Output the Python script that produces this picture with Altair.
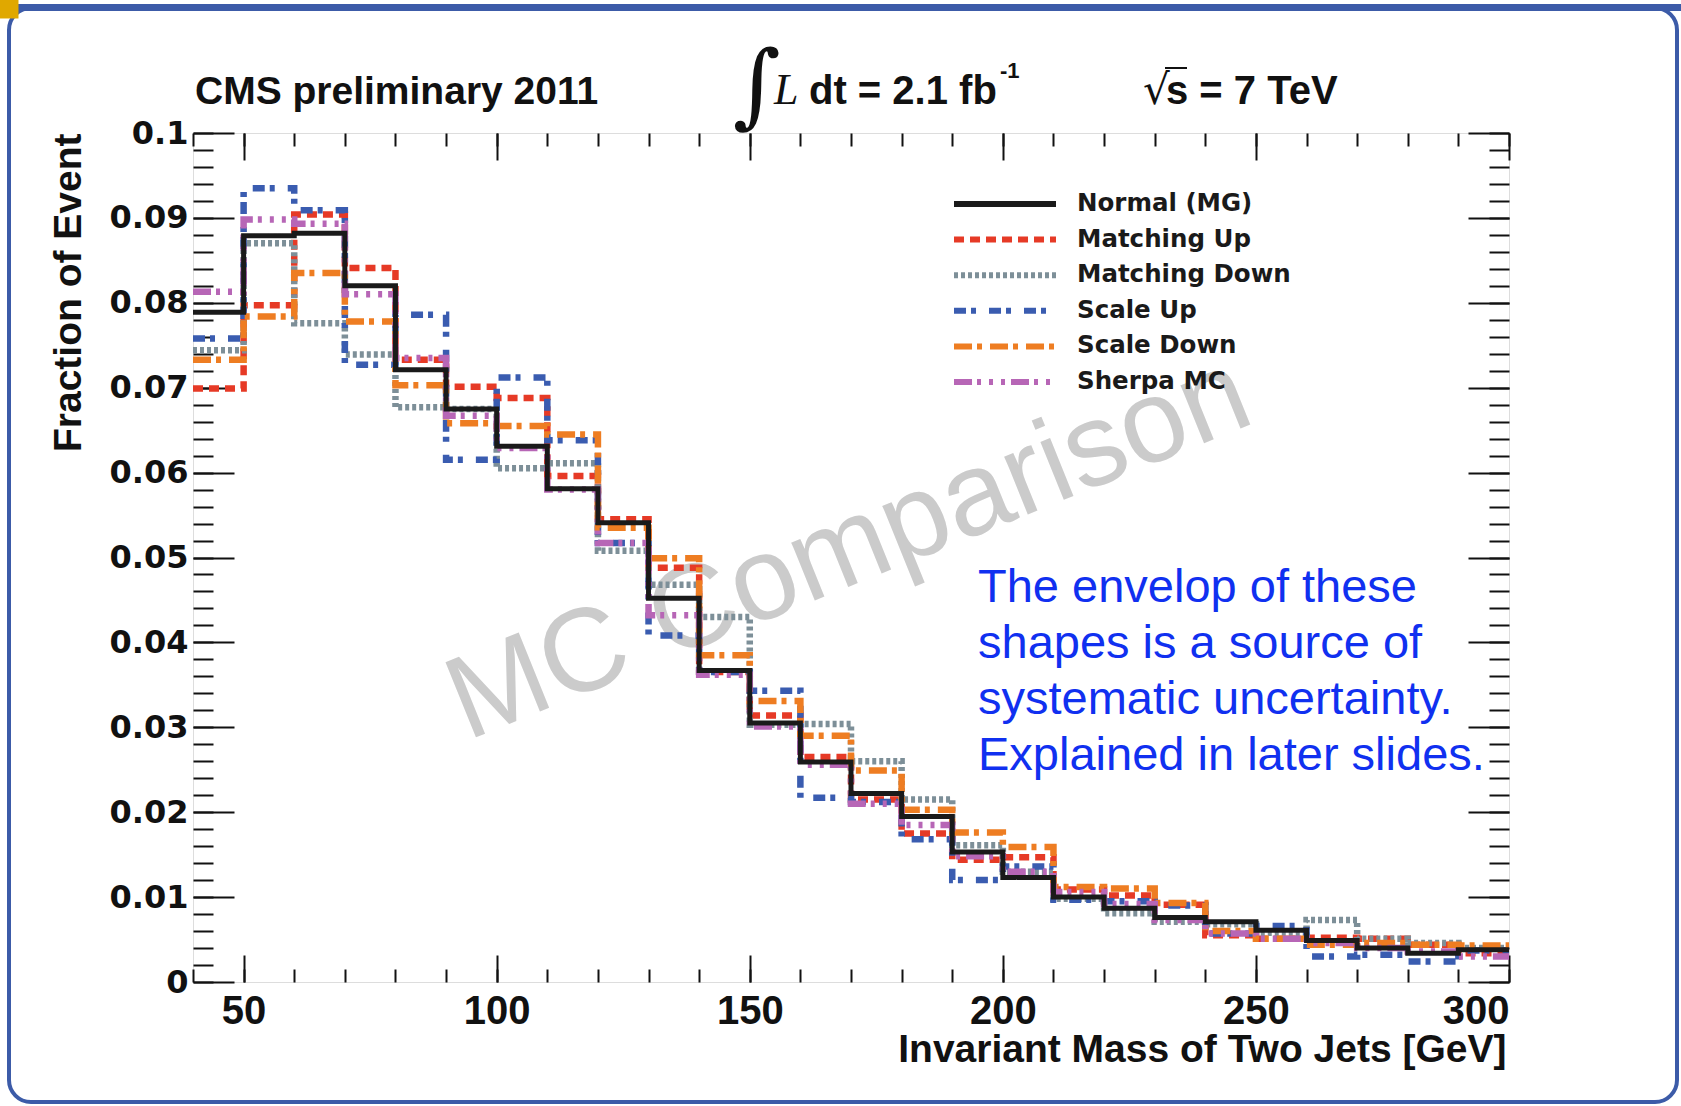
import altair as alt
import pandas as pd

# Histogram bin edges (GeV): 26 bins of 10 GeV from 40 to 300
mass_edges = list(range(40, 301, 10))

samples = ["Normal (MG)", "Matching Up", "Matching Down", "Scale Up", "Scale Down", "Sherpa MC"]

normal_mg = [0.0789, 0.0879, 0.0882, 0.0820, 0.0721, 0.0675, 0.0631, 0.0581, 0.0541, 0.0452,
             0.0367, 0.0305, 0.0259, 0.0222, 0.0195, 0.0153, 0.0123, 0.0100, 0.0087, 0.0076,
             0.0071, 0.0061, 0.0049, 0.0040, 0.0034, 0.0038]
matching_up = [0.0699, 0.0797, 0.0904, 0.0841, 0.0733, 0.0701, 0.0688, 0.0596, 0.0545, 0.0488,
               0.0365, 0.0314, 0.0265, 0.0215, 0.0175, 0.0144, 0.0147, 0.0109, 0.0102, 0.0091,
               0.0055, 0.0051, 0.0052, 0.0051, 0.0044, 0.0034]
matching_down = [0.0744, 0.0870, 0.0776, 0.0739, 0.0677, 0.0675, 0.0605, 0.0611, 0.0508, 0.0468,
                 0.0430, 0.0303, 0.0304, 0.0260, 0.0215, 0.0161, 0.0130, 0.0098, 0.0081, 0.0071,
                 0.0068, 0.0058, 0.0073, 0.0051, 0.0046, 0.0040]
scale_up = [0.0758, 0.0935, 0.0909, 0.0727, 0.0786, 0.0615, 0.0712, 0.0638, 0.0517, 0.0408,
            0.0365, 0.0343, 0.0217, 0.0212, 0.0168, 0.0120, 0.0136, 0.0097, 0.0095, 0.0090,
            0.0057, 0.0066, 0.0030, 0.0032, 0.0024, 0.0037]
scale_down = [0.0733, 0.0784, 0.0835, 0.0778, 0.0703, 0.0658, 0.0655, 0.0645, 0.0535, 0.0499,
              0.0385, 0.0331, 0.0290, 0.0249, 0.0203, 0.0176, 0.0159, 0.0112, 0.0110, 0.0093,
              0.0060, 0.0051, 0.0044, 0.0046, 0.0044, 0.0043]
sherpa_mc = [0.0813, 0.0898, 0.0893, 0.0810, 0.0735, 0.0667, 0.0629, 0.0580, 0.0517, 0.0432,
             0.0362, 0.0301, 0.0256, 0.0210, 0.0185, 0.0148, 0.0130, 0.0106, 0.0092, 0.0073,
             0.0057, 0.0051, 0.0046, 0.0040, 0.0036, 0.0030]

series_values = [normal_mg, matching_up, matching_down, scale_up, scale_down, sherpa_mc]

line_colors = ["#1a1a1a", "#e63a26", "#7d8f98", "#3a5cb0", "#ee7d22", "#b766b6"]
line_dashes = [[1, 0], [10, 6], [4, 3], [12, 5, 5, 13], [18, 5, 5, 8], [18, 5, 4, 8, 4, 8, 4, 6]]

x_major_ticks = [50, 100, 150, 200, 250, 300]
x_minor_ticks = list(range(40, 301, 10))
y_major_ticks = [0, 0.01, 0.02, 0.03, 0.04, 0.05, 0.06, 0.07, 0.08, 0.09, 0.1]
y_minor_ticks = [i / 500 for i in range(0, 51)]

note_lines = ["The envelop of these", "shapes is a source of",
              "systematic uncertainty.", "Explained in later slides."]

# Step-histogram table: each bin's left edge plus a closing point at 300 GeV
rows = []
for name, vals in zip(samples, series_values):
    for i, edge in enumerate(mass_edges):
        rows.append({"mass": edge, "frac": vals[min(i, len(vals) - 1)], "sample": name})
hist = pd.DataFrame(rows)

W, H = 1316, 849
SANS = "Liberation Sans, Arial, Helvetica"
INK = "#111111"

x_scale = alt.Scale(domain=[40, 300], nice=False, zero=False)
y_scale = alt.Scale(domain=[0, 0.1], nice=False, zero=False)
color_scale = alt.Scale(domain=samples, range=line_colors)
dash_scale = alt.Scale(domain=samples, range=line_dashes)

# Long flat legend swatch: a path four units wide scaled by sqrt(symbolSize)/2
legend = alt.Legend(
    title=None, orient="none", legendX=796, legendY=55,
    symbolType="M-4,0H4", symbolSize=650, symbolStrokeWidth=6,
    labelFont="DejaVu Sans", labelFontWeight="bold", labelFontSize=24.5,
    labelColor="#1a1a1a", labelOffset=56, labelLimit=400, rowPadding=7.6,
)

base = alt.Chart(hist)

lines_mc = base.mark_line(interpolate="step-after", strokeWidth=6.5).encode(
    x=alt.X("mass:Q", scale=x_scale, axis=None),
    y=alt.Y("frac:Q", scale=y_scale, axis=None),
    color=alt.Color("sample:N", scale=color_scale, legend=legend),
    strokeDash=alt.StrokeDash("sample:N", scale=dash_scale, legend=legend),
    detail="sample:N",
).transform_filter(alt.datum.sample != "Normal (MG)")

line_nominal = base.mark_line(interpolate="step-after", strokeWidth=5).encode(
    x=alt.X("mass:Q", scale=x_scale, axis=None),
    y=alt.Y("frac:Q", scale=y_scale, axis=None),
    color=alt.Color("sample:N", scale=color_scale, legend=legend),
    strokeDash=alt.StrokeDash("sample:N", scale=dash_scale, legend=legend),
).transform_filter(alt.datum.sample == "Normal (MG)")


def tick_axis(orient, values, size, offset):
    return alt.Axis(orient=orient, values=values, tickSize=size, offset=offset,
                    labels=False, domain=False, grid=False, title=None,
                    tickColor=INK, tickWidth=2)


def axis_layer(xaxis, yaxis):
    return base.mark_point(opacity=0).encode(
        x=alt.X("mass:Q", scale=x_scale, axis=xaxis),
        y=alt.Y("frac:Q", scale=y_scale, axis=yaxis),
    )


label_axes = axis_layer(
    alt.Axis(orient="bottom", values=x_major_ticks, ticks=False, tickSize=0, domain=False,
             grid=False, labelFont=SANS, labelFontWeight="bold", labelFontSize=40,
             labelColor=INK, labelPadding=9,
             title="Invariant Mass of Two Jets [GeV]", titleFont=SANS,
             titleFontWeight="bold", titleFontSize=39, titleColor=INK,
             titleAnchor="end", titleAlign="right", titleBaseline="alphabetic",
             titleX=W - 3, titleY=79),
    alt.Axis(orient="left", values=y_major_ticks, ticks=False, tickSize=0, domain=False,
             grid=False, labelExpr="format(datum.value, '~g')",
             labelFont="DejaVu Sans", labelFontWeight="bold", labelFontSize=32,
             labelColor=INK, labelPadding=5,
             title="Fraction of Event", titleFont=SANS, titleFontWeight="bold",
             titleFontSize=39, titleColor=INK, titleAngle=270,
             titleAlign="right", titleBaseline="alphabetic", titleX=-113, titleY=0),
)
ticks_a = axis_layer(tick_axis("top", x_major_ticks, 27, -H), tick_axis("right", y_major_ticks, 41, -W))
ticks_b = axis_layer(tick_axis("top", x_minor_ticks, 13, -H), tick_axis("right", y_minor_ticks, 20, -W))
ticks_c = axis_layer(tick_axis("bottom", x_major_ticks, 27, -H), tick_axis("left", y_major_ticks, 41, -W))
ticks_d = axis_layer(tick_axis("bottom", x_minor_ticks, 13, -H), tick_axis("left", y_minor_ticks, 20, -W))

one = alt.Chart(pd.DataFrame({"k": [0]}))


def label(text, x, y, **kw):
    return one.mark_text(text=text, **kw).encode(x=alt.value(x), y=alt.value(y))


watermark = label("MC Comparison", 656, 416, angle=338, align="center", baseline="middle",
                  font="Liberation Sans", fontSize=118, color="#cbcbcb")

header = [
    label("CMS preliminary 2011", 2, -29, align="left", baseline="alphabetic",
          font=SANS, fontWeight="bold", fontSize=39, color=INK),
    label("\u222b", 540, -45, align="left", baseline="middle",
          font="DejaVu Serif", fontSize=92, color=INK),
    label("L", 581, -29, align="left", baseline="alphabetic",
          font="Liberation Serif", fontStyle="italic", fontSize=44, color=INK),
    label("dt = 2.1 fb", 616, -29, align="left", baseline="alphabetic",
          font=SANS, fontWeight="bold", fontSize=40, color=INK),
    label("-1", 807, -55, align="left", baseline="alphabetic",
          font=SANS, fontWeight="bold", fontSize=22, color=INK),
    label("\u221a", 950, -29, align="left", baseline="alphabetic",
          font="DejaVu Sans", fontSize=42, color=INK),
    label("s = 7 TeV", 973, -29, align="left", baseline="alphabetic",
          font=SANS, fontWeight="bold", fontSize=40, color=INK),
    one.mark_rule(color=INK, strokeWidth=2).encode(
        x=alt.value(972), x2=alt.value(994), y=alt.value(-65)),
]

note = one.mark_text(text=note_lines, align="left", baseline="alphabetic",
                     font="Liberation Sans", fontSize=47, lineHeight=56,
                     color="#1030f0").encode(x=alt.value(785), y=alt.value(469))

# Slide frame around the figure, with the coloured tab in the top-left corner
slide_frame = one.mark_rect(filled=False, stroke="#3c5ba8", strokeWidth=4, cornerRadius=22).encode(
    x=alt.value(-184), x2=alt.value(1484), y=alt.value(-125), y2=alt.value(969))
slide_bar = one.mark_rect(color="#3c5ba8").encode(
    x=alt.value(-178), x2=alt.value(1488), y=alt.value(-129), y2=alt.value(-122))
corner_tab = one.mark_square(color="#e0a800", size=360, opacity=1, filled=True).encode(
    x=alt.value(-184), y=alt.value(-124))

chart = alt.layer(
    watermark, slide_frame, slide_bar,
    lines_mc, line_nominal,
    label_axes, ticks_a, ticks_b, ticks_c, ticks_d,
    *header, note, corner_tab,
).resolve_axis(
    x="independent", y="independent"
).properties(
    width=W, height=H,
    padding={"left": 193, "top": 133, "right": 172, "bottom": 124},
    autosize=alt.AutoSizeParams(type="none"),
).configure_view(
    stroke=INK, strokeWidth=2.5
).configure(background="white")

chart.save("out.html", embed_options={"renderer": "svg", "actions": False})
